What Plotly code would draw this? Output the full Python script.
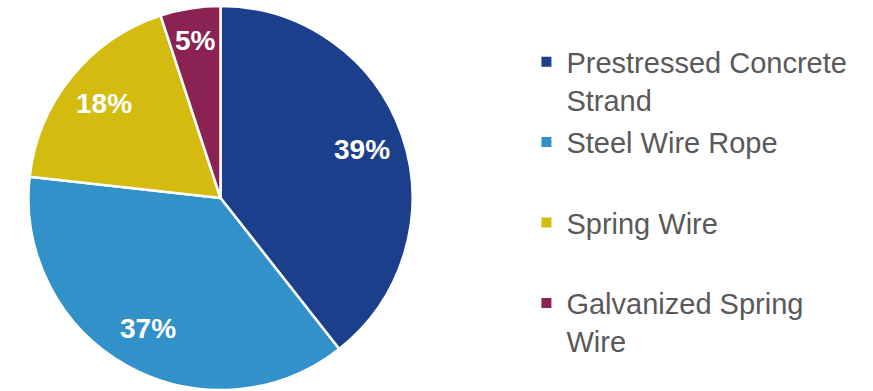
import math
import plotly.graph_objects as go

# Share of output by product line
categories = ["Prestressed Concrete<br>Strand", "Steel Wire Rope<br> ", "Spring Wire<br> ", "Galvanized Spring<br>Wire"]
shares = [39, 37, 18, 5]
colors = ["#1B3F8B", "#3291C9", "#D4BB10", "#8B2254"]

W, H = 873, 391
pie_left, pie_right, pie_bottom, pie_top = 27, 414, 1, 385
FONT = "Liberation Sans, Arial, sans-serif"

fig = go.Figure()

fig.add_trace(
    go.Pie(
        labels=categories,
        values=shares,
        sort=False,
        direction="clockwise",
        rotation=0,
        marker=dict(colors=colors, line=dict(color="white", width=2.5)),
        textinfo="none",
        domain=dict(x=[pie_left / W, pie_right / W], y=[pie_bottom / H, pie_top / H]),
        showlegend=False,
        hoverinfo="label+percent",
    )
)

# Percentage labels placed along each slice's bisector
cx = (pie_left + pie_right) / 2
cy = (pie_bottom + pie_top) / 2
radius = (pie_top - pie_bottom) / 2
total = sum(shares)
start = 0.0
for share in shares:
    mid = (start + share / 2) / total * 2 * math.pi
    frac = 0.83 if share < 10 else 0.78
    px = cx + math.sin(mid) * radius * frac
    py = cy + math.cos(mid) * radius * frac
    fig.add_annotation(
        x=px / W, y=py / H, xref="paper", yref="paper",
        text=f"<b>{share}%</b>", showarrow=False,
        font=dict(family=FONT, size=28, color="white"),
        xanchor="center", yanchor="middle",
    )
    start += share

# Legend entries, one group per category so the gap between items is even
for i, (name, color) in enumerate(zip(categories, colors)):
    fig.add_trace(
        go.Scatter(
            x=[None], y=[None], mode="markers", name=name,
            marker=dict(symbol="square", size=10, color=color),
            legendgroup=f"g{i}", hoverinfo="skip",
        )
    )

fig.update_layout(
    width=W,
    height=H,
    margin=dict(l=0, r=0, t=0, b=0),
    paper_bgcolor="white",
    plot_bgcolor="white",
    xaxis=dict(visible=False),
    yaxis=dict(visible=False),
    showlegend=True,
    legend=dict(
        x=0.603,
        y=0.907,
        xanchor="left",
        yanchor="top",
        valign="top",
        traceorder="grouped",
        tracegroupgap=2,
        font=dict(family=FONT, size=29, color="#595959"),
        itemwidth=30,
    ),
)

fig.write_html("out.html")
